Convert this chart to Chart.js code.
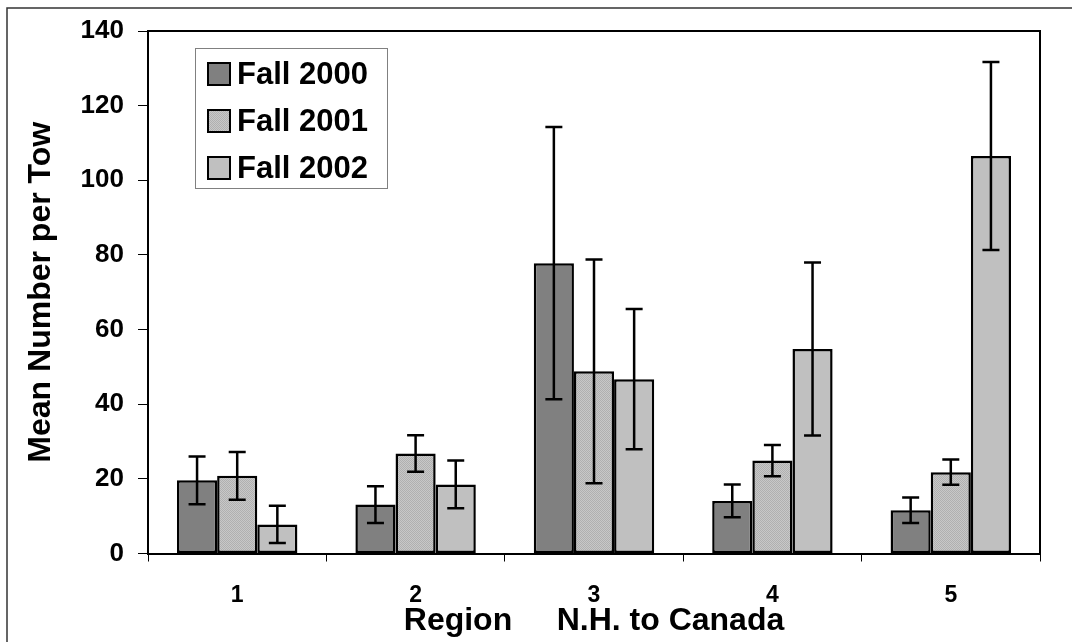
<!DOCTYPE html>
<html>
<head>
<meta charset="utf-8">
<script src="https://cdn.jsdelivr.net/npm/chart.js@4"></script>
<style>
  body { margin: 0; background: #fff; }
  #wrap { width: 1072px; height: 642px; }
</style>
</head>
<body>
<div id="wrap"><canvas id="chart" width="1072" height="642"></canvas></div>
<script>
const regions = ["1", "2", "3", "4", "5"];
const seriesNames = ["Fall 2000", "Fall 2001", "Fall 2002"];
const fall2000 = [19.6, 13.1, 77.8, 14.1, 11.6];
const fall2001 = [20.8, 26.8, 48.8, 24.9, 21.8];
const fall2002 = [7.8, 18.5, 46.7, 54.8, 106.5];
const err2000 = [6.4, 4.9, 36.5, 4.4, 3.4];
const err2001 = [6.4, 4.9, 30.0, 4.2, 3.4];
const err2002 = [5.0, 6.4, 18.8, 23.2, 25.2];
const yTicks = [0, 20, 40, 60, 80, 100, 120, 140];

const FONT = "'Liberation Sans', Arial, sans-serif";

// stippled fill used by the Fall 2001 bars
function stipple() {
    const c = document.createElement("canvas");
    c.width = 2; c.height = 2;
    const g = c.getContext("2d");
    g.fillStyle = "#c8c8c8";
    g.fillRect(0, 0, 2, 2);
    g.fillStyle = "#b0b0b0";
    g.fillRect(0, 0, 1, 1);
    g.fillRect(1, 1, 1, 1);
    return g.createPattern(c, "repeat");
}

const fills = ["#808080", stipple(), "#c0c0c0"];
const errors = [err2000, err2001, err2002];

const errorBars = {
    id: "errorBars",
    afterDatasetsDraw(chart) {
        const ctx = chart.ctx;
        const y = chart.scales.y;
        ctx.save();
        ctx.strokeStyle = "#000";
        ctx.lineWidth = 2.5;
        chart.data.datasets.forEach((ds, i) => {
            chart.getDatasetMeta(i).data.forEach((bar, j) => {
                const v = ds.data[j], e = errors[i][j];
                const top = y.getPixelForValue(v + e);
                const bot = y.getPixelForValue(v - e);
                ctx.beginPath();
                ctx.moveTo(bar.x, top); ctx.lineTo(bar.x, bot);
                ctx.moveTo(bar.x - 8.5, top); ctx.lineTo(bar.x + 8.5, top);
                ctx.moveTo(bar.x - 8.5, bot); ctx.lineTo(bar.x + 8.5, bot);
                ctx.stroke();
            });
        });
        ctx.restore();
    }
};

const frame = {
    id: "frame",
    afterDraw(chart) {
        const ctx = chart.ctx;
        const a = chart.chartArea;
        ctx.save();
        // plot frame, top and right
        ctx.strokeStyle = "#000";
        ctx.lineWidth = 2;
        ctx.beginPath();
        ctx.moveTo(a.left, a.top); ctx.lineTo(a.right, a.top); ctx.lineTo(a.right, a.bottom);
        ctx.stroke();
        // outer border
        ctx.strokeStyle = "#333";
        ctx.lineWidth = 1.5;
        ctx.beginPath();
        ctx.moveTo(7, 642); ctx.lineTo(7, 8); ctx.lineTo(1072, 8);
        ctx.stroke();

        // legend box
        ctx.strokeStyle = "#808080";
        ctx.lineWidth = 1;
        ctx.strokeRect(195.5, 48.5, 192, 140);
        ctx.font = "bold 31px " + FONT;
        ctx.textBaseline = "middle";
        chart.data.datasets.forEach((ds, i) => {
            const cy = 74 + i * 47;
            ctx.fillStyle = ds.backgroundColor;
            ctx.fillRect(208, cy - 11, 22, 22);
            ctx.strokeStyle = "#000";
            ctx.lineWidth = 2;
            ctx.strokeRect(208, cy - 11, 22, 22);
            ctx.fillStyle = "#000";
            ctx.fillText(ds.label, 237, cy + 1);
        });
        ctx.restore();
    }
};

const chart = new Chart(document.getElementById("chart"), {
    type: "bar",
    data: {
        labels: regions,
        datasets: [fall2000, fall2001, fall2002].map((d, i) => ({
            label: seriesNames[i],
            data: d,
            backgroundColor: fills[i],
            borderColor: "#000",
            borderWidth: 2.5,
            borderSkipped: false,
            categoryPercentage: 0.675,
            barPercentage: 1.0
        }))
    },
    options: {
        responsive: false,
        animation: false,
        devicePixelRatio: 1,
        layout: { padding: { left: 0, top: 31, right: 32, bottom: 0 } },
        plugins: {
            legend: { display: false },
            tooltip: { enabled: false }
        },
        scales: {
            x: {
                grid: { drawOnChartArea: false, tickLength: 8, tickColor: "#000", tickWidth: 1 },
                border: { color: "#000", width: 2 },
                ticks: { color: "#000", font: { family: FONT, size: 23, weight: "bold" }, padding: 20 },
                title: {
                    display: true,
                    text: "Region     N.H. to Canada",
                    color: "#000",
                    font: { family: FONT, size: 32, weight: "bold" },
                    padding: { top: 0, bottom: 2 }
                },
                afterFit: (s) => { s.height = 88.5; }
            },
            y: {
                min: 0,
                max: 140,
                afterBuildTicks: (s) => { s.ticks = yTicks.map(v => ({ value: v })); },
                grid: { drawOnChartArea: false, tickLength: 10, tickColor: "#000", tickWidth: 1 },
                border: { color: "#000", width: 2 },
                ticks: { color: "#000", font: { family: FONT, size: 26, weight: "bold" }, padding: 14 },
                title: {
                    display: true,
                    text: "Mean Number per Tow",
                    color: "#000",
                    font: { family: FONT, size: 32, weight: "bold" },
                    padding: { top: 22, bottom: 0 }
                },
                afterFit: (s) => { s.width = 148; }
            }
        }
    },
    plugins: [errorBars, frame]
});
</script>
</body>
</html>
